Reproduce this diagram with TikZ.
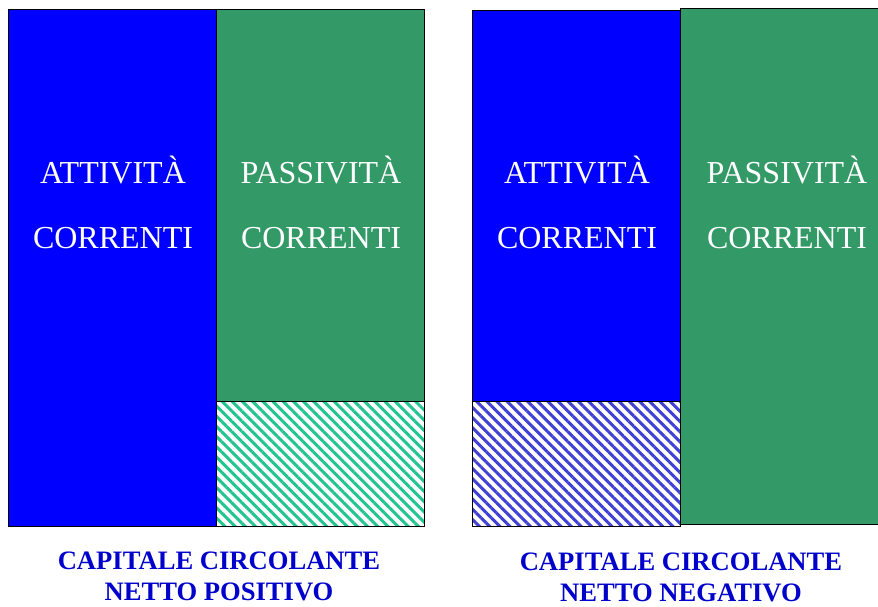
\documentclass[tikz,border=0pt]{standalone}
\usepackage{fontspec}
\setmainfont{Liberation Serif}
\usetikzlibrary{patterns.meta}
\definecolor{attblue}{HTML}{0000FF}
\definecolor{pasgreen}{HTML}{339966}
\definecolor{hatchgreen}{HTML}{22C490}
\definecolor{hatchblue}{HTML}{4040D4}
\definecolor{titleblue}{HTML}{0000CC}
\tikzset{
  block/.style={draw=black, line width=0.8pt},
  hatched/.style={block, fill=white, pattern={Lines[angle=-45, distance=7.2pt, line width=3pt]}, pattern color=#1},
  boxtext/.style={white, anchor=base, font=\fontsize{32}{38}\selectfont},
  caption/.style={titleblue, anchor=base, inner ysep=1pt, text depth=0pt, font=\bfseries\fontsize{26.6}{32}\selectfont}
}

\begin{document}
\begin{tikzpicture}[x=1pt, y=-1pt]
\useasboundingbox (0,0) rectangle (878,607);

% Left: positive net working capital
\fill[block, fill=attblue] (8,9) rectangle (216,526);
\fill[block, fill=pasgreen] (216,9) rectangle (424,401);
\fill[white] (216,401) rectangle (424,526);
\draw[hatched=hatchgreen] (216,401) rectangle (424,526);

\node[boxtext] (attL1) at (113,183) {ATTIVITÀ};
\node[boxtext] (attL2) at (113,248) {CORRENTI};
\node[boxtext] (pasL1) at (321,183) {PASSIVITÀ};
\node[boxtext] (pasL2) at (321,248) {CORRENTI};

\node[caption] (capL1) at (219,569) {CAPITALE CIRCOLANTE};
\node[caption] (capL2) at (219,600) {NETTO POSITIVO};

% Right: negative net working capital
\fill[block, fill=attblue] (472,10) rectangle (680,401);
\fill[white] (472,401) rectangle (680,526);
\draw[hatched=hatchblue] (472,401) rectangle (680,526);
\fill[block, fill=pasgreen] (680,8) rectangle (890,524);

\node[boxtext] (attR1) at (577,183) {ATTIVITÀ};
\node[boxtext] (attR2) at (577,248) {CORRENTI};
\node[boxtext] (pasR1) at (787,183) {PASSIVITÀ};
\node[boxtext] (pasR2) at (787,248) {CORRENTI};

\node[caption] (capR1) at (681,570) {CAPITALE CIRCOLANTE};
\node[caption] (capR2) at (681,601) {NETTO NEGATIVO};

\end{tikzpicture}
\end{document}
